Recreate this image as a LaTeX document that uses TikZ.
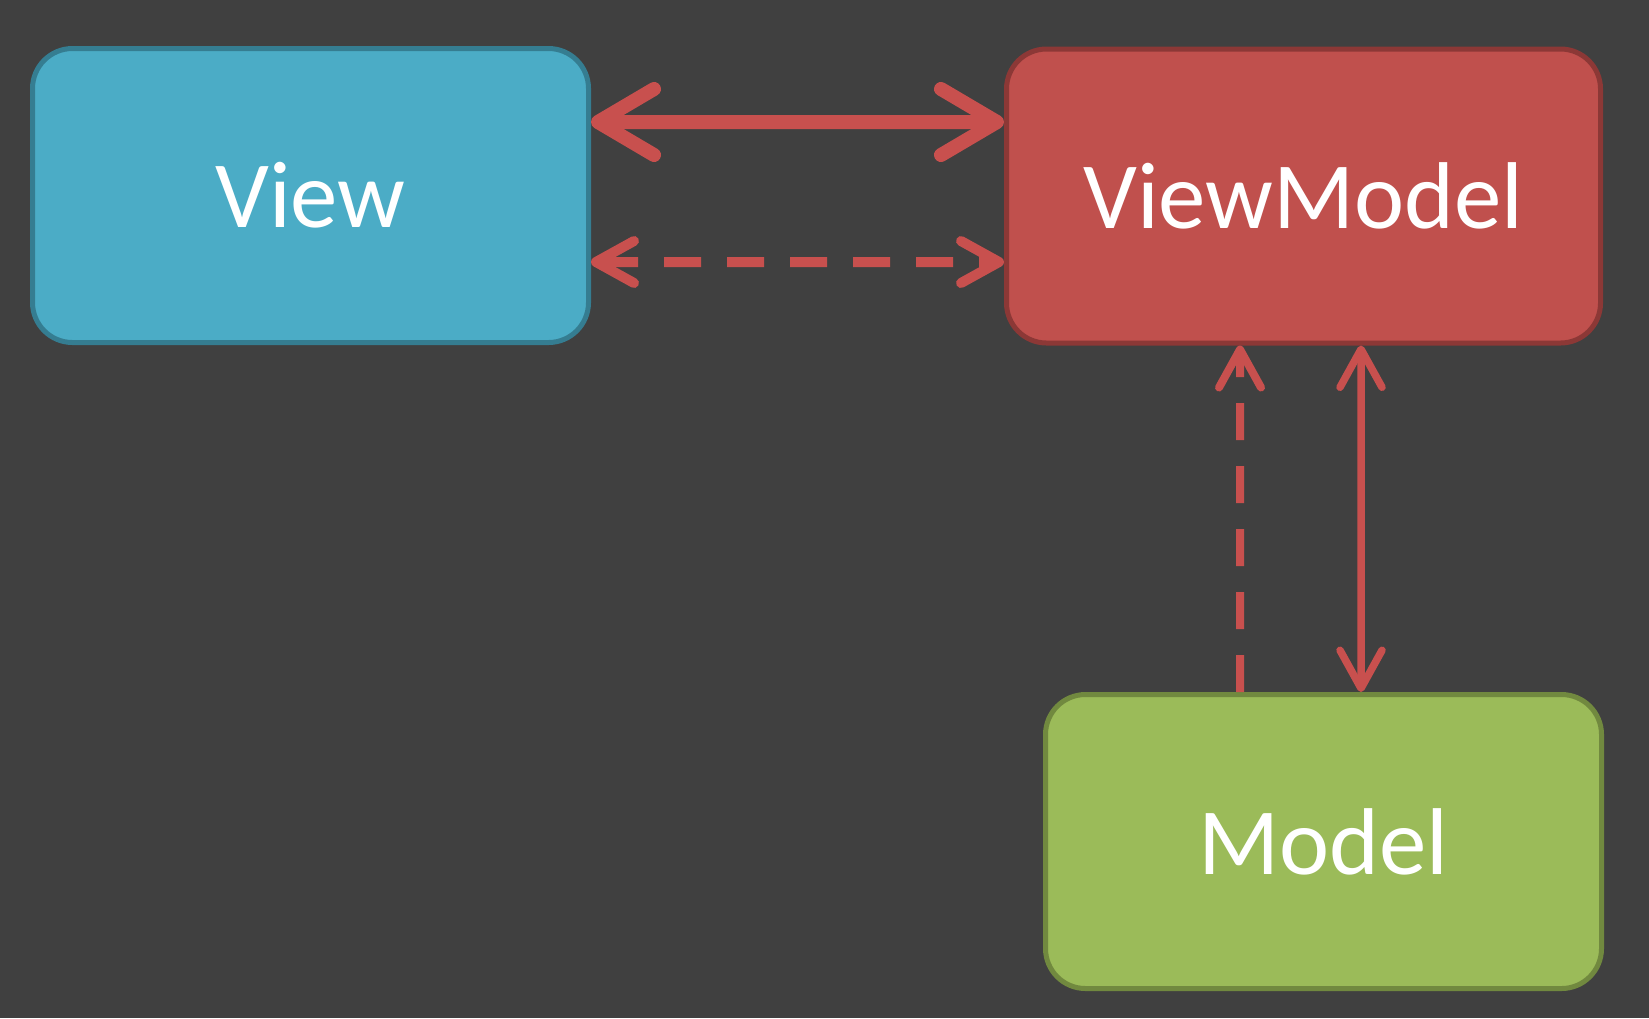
\documentclass[tikz,border=0pt]{standalone}
\usepackage{fontspec}
\setmainfont{Carlito}
\usetikzlibrary{arrows.meta}
\definecolor{bgdark}{HTML}{404040}
\definecolor{viewfill}{HTML}{4BACC6}
\definecolor{viewline}{HTML}{357D91}
\definecolor{vmfill}{HTML}{C0504D}
\definecolor{vmline}{HTML}{8C3836}
\definecolor{modelfill}{HTML}{9BBB59}
\definecolor{modelline}{HTML}{71893F}
\definecolor{linkred}{HTML}{C8504E}

\begin{document}
\begin{tikzpicture}[
  box/.style={rounded corners=4mm, line width=0.5mm, inner sep=0pt,
    minimum width=5.56cm, minimum height=2.94cm, text=white,
    font=\fontsize{27}{32}\selectfont},
  bigtip/.tip={Straight Barb[round,length=5.6mm,width=6.6mm]},
  smalltip/.tip={Straight Barb[round,length=3.8mm,width=4.2mm]},
  link/.style={draw=linkred, line cap=round},
  dashlink/.style={draw=linkred, dash pattern=on 3.7mm off 2.6mm}
]
\fill [bgdark] (0,0) rectangle (16.49,-10.18);
\useasboundingbox (0,0) rectangle (16.49,-10.18);
% boxes
\node [box, fill=viewfill, draw=viewline] (view) at (3.105,-1.955) {View};
\node [box, fill=vmfill, draw=vmline, minimum width=5.94cm] (vm) at (13.035,-1.96) {ViewModel};
\node [box, fill=modelfill, draw=modelline] (model) at (13.235,-8.415) {Model};
% view <-> viewmodel
\draw [link, line width=1.4mm, bigtip-bigtip] ([yshift=7.35mm]view.east) -- ([yshift=7.4mm]vm.west);
\draw [dashlink, line width=1mm, smalltip-smalltip] ([yshift=-6.65mm]view.east) -- ([yshift=-6.6mm]vm.west);
% viewmodel <-> model
\draw [dashlink, line width=0.8mm, -smalltip] ([xshift=-8.35mm]model.north) -- ([xshift=-6.35mm]vm.south);
\draw [link, line width=0.75mm, smalltip-smalltip] ([xshift=5.75mm]vm.south) -- ([xshift=3.75mm]model.north);
\end{tikzpicture}
\end{document}
